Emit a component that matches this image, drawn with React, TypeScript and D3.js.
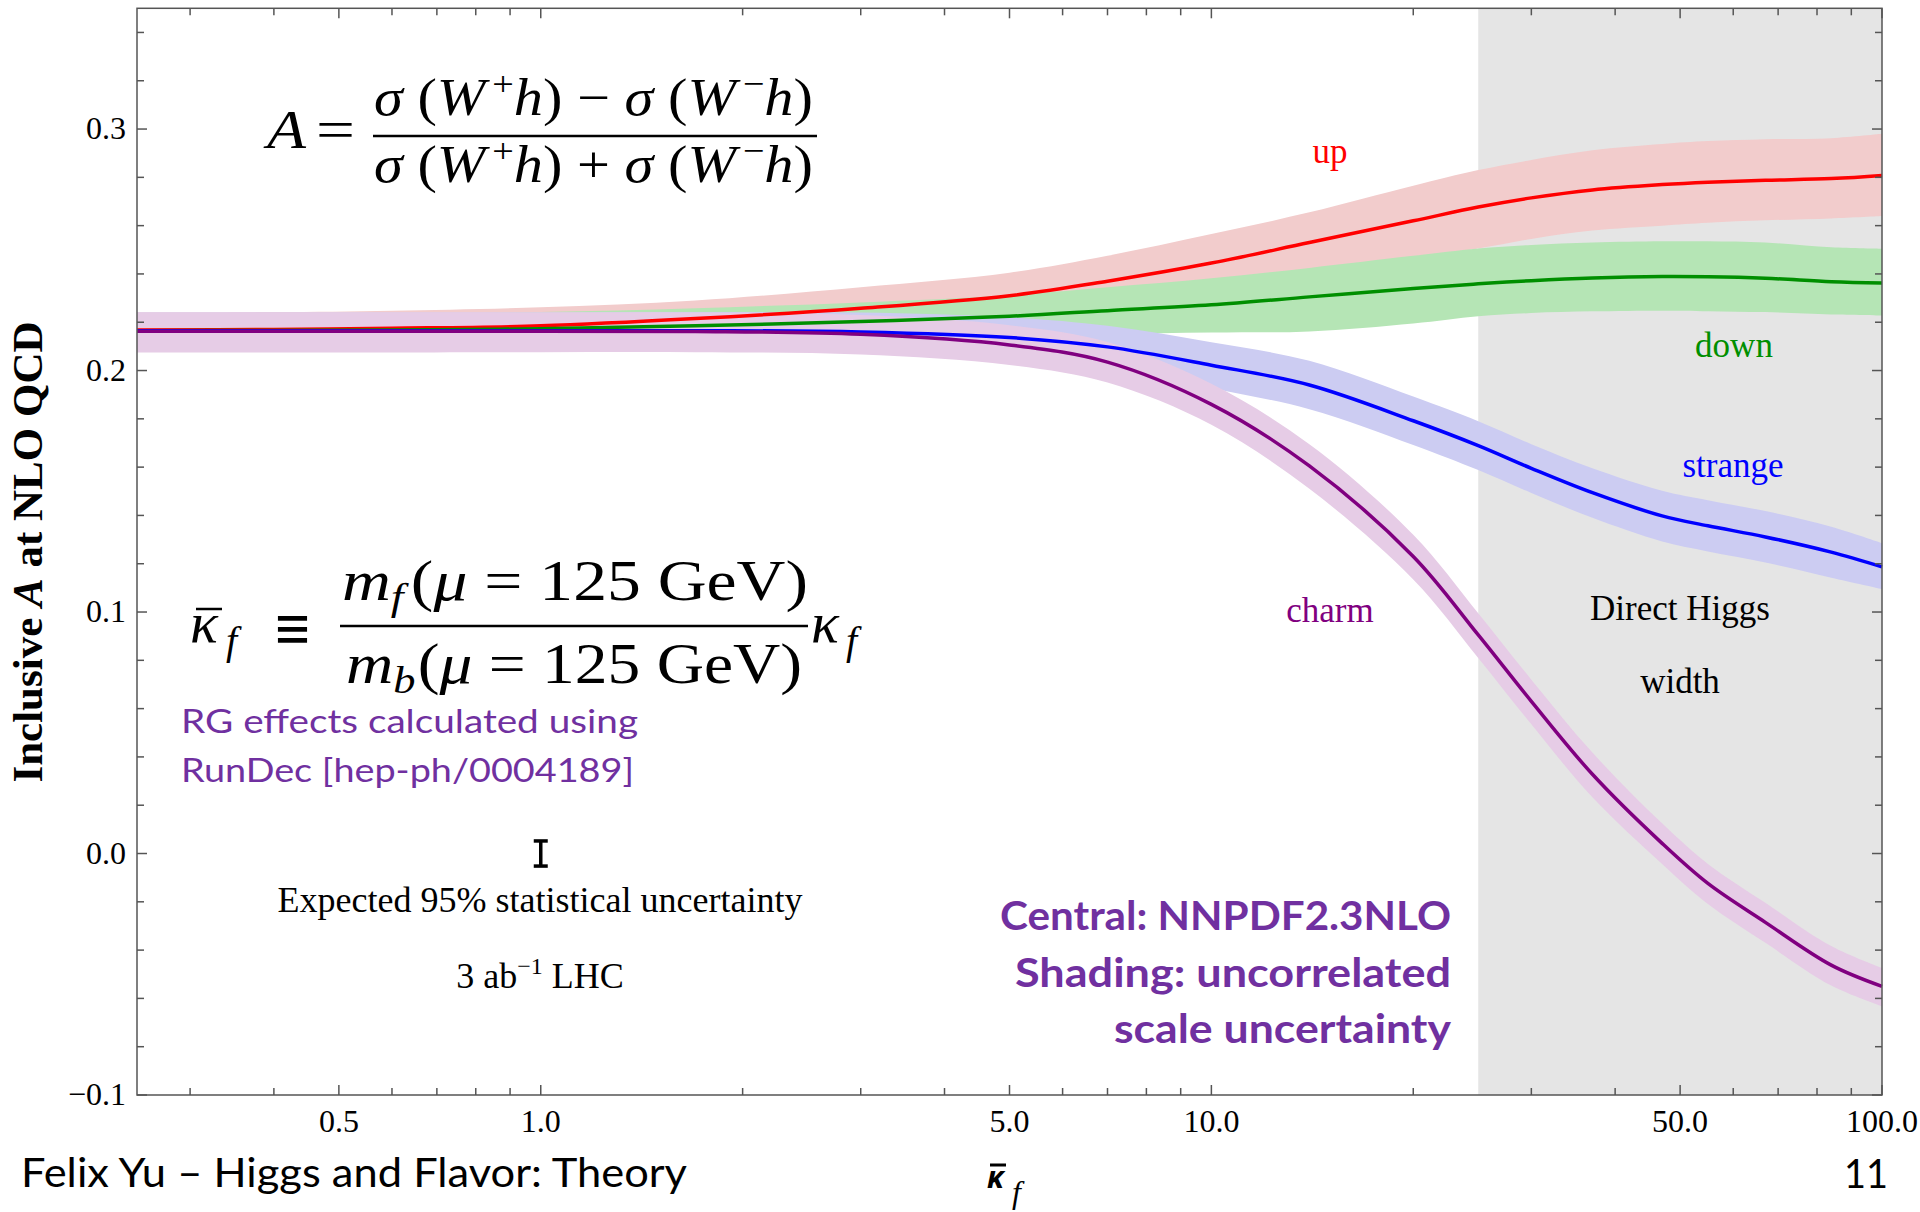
import React from 'react';
import * as d3 from 'd3';

// ---------- data ----------
const kappaGrid = [0.25, 0.4, 0.6, 1, 1.7, 3, 5, 7, 10, 14, 20, 25, 30, 37, 47, 55, 67, 84, 100];

const upCentral = [0.2168, 0.2170, 0.2175, 0.2185, 0.2215, 0.2258, 0.2310, 0.2370, 0.2445, 0.2530, 0.2620, 0.2677, 0.2715, 0.2748, 0.2770, 0.2780, 0.2788, 0.2795, 0.2808];
const upHigh = [0.2240, 0.2242, 0.2248, 0.2262, 0.2290, 0.2345, 0.2405, 0.2475, 0.2565, 0.2655, 0.2765, 0.2830, 0.2872, 0.2912, 0.2938, 0.2950, 0.2958, 0.2962, 0.2980];
const upLow = [0.2100, 0.2100, 0.2103, 0.2110, 0.2140, 0.2175, 0.2215, 0.2260, 0.2320, 0.2390, 0.2465, 0.2505, 0.2545, 0.2580, 0.2600, 0.2612, 0.2622, 0.2630, 0.2640];

const downCentral = [0.2165, 0.2166, 0.2168, 0.2173, 0.2185, 0.2203, 0.2225, 0.2248, 0.2272, 0.2305, 0.2340, 0.2359, 0.2372, 0.2383, 0.2389, 0.2388, 0.2382, 0.2368, 0.2362];
const downHigh = [0.2230, 0.2232, 0.2235, 0.2242, 0.2258, 0.2282, 0.2312, 0.2345, 0.2382, 0.2425, 0.2475, 0.2505, 0.2520, 0.2530, 0.2535, 0.2535, 0.2530, 0.2510, 0.2504];
const downLow = [0.2100, 0.2100, 0.2102, 0.2105, 0.2112, 0.2125, 0.2140, 0.2150, 0.2157, 0.2162, 0.2195, 0.2225, 0.2238, 0.2245, 0.2248, 0.2246, 0.2242, 0.2232, 0.2228];

const strangeCentral = [0.2165, 0.2165, 0.2165, 0.2165, 0.2165, 0.2160, 0.2137, 0.2098, 0.2022, 0.1940, 0.1792, 0.1689, 0.1595, 0.1494, 0.1398, 0.1357, 0.1311, 0.1248, 0.1187];
const strangeHigh = [0.2240, 0.2240, 0.2240, 0.2240, 0.2242, 0.2240, 0.2220, 0.2185, 0.2117, 0.2040, 0.1892, 0.1790, 0.1695, 0.1595, 0.1502, 0.1463, 0.1418, 0.1353, 0.1285];
const strangeLow = [0.2090, 0.2090, 0.2090, 0.2090, 0.2088, 0.2080, 0.2054, 0.2010, 0.1927, 0.1840, 0.1692, 0.1588, 0.1493, 0.1390, 0.1292, 0.1251, 0.1205, 0.1142, 0.1095];

const charmCentral = [0.2163, 0.2163, 0.2163, 0.2163, 0.2162, 0.2150, 0.2106, 0.2035, 0.1860, 0.1605, 0.1230, 0.0905, 0.0630, 0.0328, 0.0042, -0.0124, -0.0285, -0.0462, -0.0550];
const charmHigh = [0.2241, 0.2241, 0.2241, 0.2241, 0.2240, 0.2230, 0.2188, 0.2118, 0.1945, 0.1695, 0.1320, 0.0995, 0.0720, 0.0418, 0.0125, -0.0043, -0.0204, -0.0383, -0.0474];
const charmLow = [0.2075, 0.2075, 0.2075, 0.2076, 0.2076, 0.2066, 0.2023, 0.1950, 0.1775, 0.1510, 0.1135, 0.0810, 0.0535, 0.0233, -0.0043, -0.0209, -0.0370, -0.0547, -0.0633];

const directWidthRange = [25, 100];
const errorBarPoint = { kappa: 1, value: 0, err: 0.0052 };

const xMajorTicks = [0.5, 1, 5, 10, 50, 100];
const xMajorLabels = ['0.5', '1.0', '5.0', '10.0', '50.0', '100.0'];
const xMinorTicks = [0.3, 0.4, 0.6, 0.7, 0.8, 0.9, 2, 3, 4, 6, 7, 8, 9, 20, 30, 40, 60, 70, 80, 90];
const yMajorTicks = [-0.1, 0, 0.1, 0.2, 0.3];
const yMajorLabels = ['\u22120.1', '0.0', '0.1', '0.2', '0.3'];
const yMinorTicks = [-0.08, -0.06, -0.04, -0.02, 0.02, 0.04, 0.06, 0.08, 0.12, 0.14, 0.16, 0.18, 0.22, 0.24, 0.26, 0.28, 0.32, 0.34];

const seriesList = [
  { name: 'up', central: upCentral, low: upLow, high: upHigh, line: '#ff0000', band: '#f2cccc' },
  { name: 'down', central: downCentral, low: downLow, high: downHigh, line: '#008f00', band: '#b5e5b5' },
  { name: 'strange', central: strangeCentral, low: strangeLow, high: strangeHigh, line: '#0000ff', band: '#ccccf2' },
  { name: 'charm', central: charmCentral, low: charmLow, high: charmHigh, line: '#800080', band: '#e6cce6' },
];

// ---------- layout ----------
const W = 1920, H = 1212;
const L = 137, R = 1882, T = 8.3, B = 1095;

const serif = '"Liberation Serif", "Times New Roman", serif';
const sans = 'Lato, "Open Sans", sans-serif';
const purple = '#7030a0';

export default function App() {
  const x = d3.scaleLog().domain([0.25, 100]).range([L, R]);
  const y = d3.scaleLinear().domain([-0.1, 0.35]).range([B, T]);

  const curve = d3.curveCatmullRom.alpha(0.5);
  const area = d3.area<number>()
    .x((_, i) => x(kappaGrid[i]))
    .curve(curve);
  const line = d3.line<number>()
    .x((_, i) => x(kappaGrid[i]))
    .y((d) => y(d))
    .curve(curve);

  const axisColor = '#555';
  const majLen = 10, minLen = 7;

  return (
    <svg width={W} height={H} style={{ position: 'absolute', left: 0, top: 0, background: '#fff' }}>
      {/* direct Higgs width shading */}
      <rect x={x(directWidthRange[0])} y={T} width={x(directWidthRange[1]) - x(directWidthRange[0])} height={B - T} fill="#e5e5e5" />

      {/* bands */}
      {seriesList.map((s) => (
        <path key={s.name + 'b'} d={area.y0((_, i) => y(s.low[i])).y1((_, i) => y(s.high[i]))(s.central) || ''} fill={s.band} />
      ))}
      {/* lines */}
      {seriesList.map((s) => (
        <path key={s.name + 'l'} d={line(s.central) || ''} fill="none" stroke={s.line} strokeWidth={3.5} />
      ))}

      {/* frame */}
      <rect x={L} y={T} width={R - L} height={B - T} fill="none" stroke={axisColor} strokeWidth={1.5} />

      {/* x ticks */}
      {xMajorTicks.map((t, i) => (
        <g key={'xm' + i}>
          <line x1={x(t)} x2={x(t)} y1={B} y2={B - majLen} stroke={axisColor} strokeWidth={1.5} />
          <line x1={x(t)} x2={x(t)} y1={T} y2={T + majLen} stroke={axisColor} strokeWidth={1.5} />
          <text x={x(t)} y={1132} textAnchor="middle" fontFamily={serif} fontSize={32}>{xMajorLabels[i]}</text>
        </g>
      ))}
      {xMinorTicks.map((t, i) => (
        <g key={'xn' + i}>
          <line x1={x(t)} x2={x(t)} y1={B} y2={B - minLen} stroke={axisColor} strokeWidth={1.5} />
          <line x1={x(t)} x2={x(t)} y1={T} y2={T + minLen} stroke={axisColor} strokeWidth={1.5} />
        </g>
      ))}
      {/* y ticks */}
      {yMajorTicks.map((t, i) => (
        <g key={'ym' + i}>
          <line x1={L} x2={L + majLen} y1={y(t)} y2={y(t)} stroke={axisColor} strokeWidth={1.5} />
          <line x1={R} x2={R - majLen} y1={y(t)} y2={y(t)} stroke={axisColor} strokeWidth={1.5} />
          <text x={126} y={y(t) + 10} textAnchor="end" fontFamily={serif} fontSize={32}>{yMajorLabels[i]}</text>
        </g>
      ))}
      {yMinorTicks.map((t, i) => (
        <g key={'yn' + i}>
          <line x1={L} x2={L + minLen} y1={y(t)} y2={y(t)} stroke={axisColor} strokeWidth={1.5} />
          <line x1={R} x2={R - minLen} y1={y(t)} y2={y(t)} stroke={axisColor} strokeWidth={1.5} />
        </g>
      ))}

      {/* axis labels */}
      <text transform="translate(42,552) rotate(-90)" textAnchor="middle" fontFamily={serif} fontWeight="bold" fontSize={43}>
        Inclusive <tspan fontStyle="italic">A</tspan> at NLO QCD
      </text>
      <text x={987} y={1188} fontFamily='"Noto Sans", sans-serif' fontWeight="bold" fontStyle="italic" fontSize={30}>κ</text>
      <line x1={990} x2={1006} y1={1165} y2={1165} stroke="#000" strokeWidth={3} />
      <text x={1012} y={1203} fontFamily={serif} fontStyle="italic" fontSize={32}>f</text>

      {/* series labels */}
      <text x={1330} y={163} textAnchor="middle" fontFamily={serif} fontSize={35} fill="#ff0000">up</text>
      <text x={1734} y={357} textAnchor="middle" fontFamily={serif} fontSize={35} fill="#008f00">down</text>
      <text x={1733} y={477} textAnchor="middle" fontFamily={serif} fontSize={35} fill="#0000ff">strange</text>
      <text x={1330} y={622} textAnchor="middle" fontFamily={serif} fontSize={35} fill="#800080">charm</text>
      <text x={1680} y={620} textAnchor="middle" fontFamily={serif} fontSize={35}>Direct Higgs</text>
      <text x={1680} y={693} textAnchor="middle" fontFamily={serif} fontSize={35}>width</text>

      {/* error bar */}
      {(() => {
        const cx = x(errorBarPoint.kappa);
        const y1 = y(errorBarPoint.value + errorBarPoint.err);
        const y2 = y(errorBarPoint.value - errorBarPoint.err);
        return (
          <g stroke="#000" strokeWidth={3.5}>
            <line x1={cx} x2={cx} y1={y1} y2={y2} />
            <line x1={cx - 7} x2={cx + 7} y1={y1} y2={y1} />
            <line x1={cx - 7} x2={cx + 7} y1={y2} y2={y2} />
          </g>
        );
      })()}
      <text x={540} y={912} textAnchor="middle" fontFamily={serif} fontSize={36}>Expected 95% statistical uncertainty</text>
      <text x={540} y={988} textAnchor="middle" fontFamily={serif} fontSize={36}>
        3 ab<tspan dy={-14} fontSize={24}>{'\u22121'}</tspan><tspan dy={14}> LHC</tspan>
      </text>

      {/* formula A */}
      <text x={267} y={148} fontFamily={serif} fontStyle="italic" fontSize={54} textLength={39} lengthAdjust="spacingAndGlyphs">A</text>
      <text x={316} y={148} fontFamily={serif} fontSize={54} textLength={39} lengthAdjust="spacingAndGlyphs">=</text>
      <line x1={373} x2={817} y1={136} y2={136} stroke="#000" strokeWidth={2.5} />
      <text x={374} y={115} fontFamily={serif} fontSize={52} textLength={439} lengthAdjust="spacingAndGlyphs">
        <tspan fontStyle="italic">σ</tspan> (<tspan fontStyle="italic">W</tspan><tspan dx={6} dy={-20} fontSize={34}>+</tspan><tspan dy={20} fontStyle="italic">h</tspan>) − <tspan fontStyle="italic">σ</tspan> (<tspan fontStyle="italic">W</tspan><tspan dx={6} dy={-20} fontSize={34}>−</tspan><tspan dy={20} fontStyle="italic">h</tspan>)
      </text>
      <text x={374} y={182} fontFamily={serif} fontSize={52} textLength={439} lengthAdjust="spacingAndGlyphs">
        <tspan fontStyle="italic">σ</tspan> (<tspan fontStyle="italic">W</tspan><tspan dx={6} dy={-20} fontSize={34}>+</tspan><tspan dy={20} fontStyle="italic">h</tspan>) + <tspan fontStyle="italic">σ</tspan> (<tspan fontStyle="italic">W</tspan><tspan dx={6} dy={-20} fontSize={34}>−</tspan><tspan dy={20} fontStyle="italic">h</tspan>)
      </text>

      {/* formula kappa-bar */}
      <text x={190} y={642} fontFamily={serif} fontStyle="italic" fontSize={58}>κ</text>
      <line x1={196} x2={222} y1={609} y2={609} stroke="#000" strokeWidth={2.5} />
      <text x={226} y={654} fontFamily={serif} fontStyle="italic" fontSize={40}>f</text>
      <text x={273} y={648} fontFamily='"DejaVu Serif", serif' fontSize={60} textLength={39} lengthAdjust="spacingAndGlyphs">≡</text>
      <line x1={340} x2={808} y1={626} y2={626} stroke="#000" strokeWidth={2.5} />
      <text x={342} y={600} fontFamily={serif} fontSize={56} textLength={466} lengthAdjust="spacingAndGlyphs">
        <tspan fontStyle="italic">m</tspan><tspan dy={10} fontSize={38} fontStyle="italic">f</tspan><tspan dx={6} dy={-10}>(</tspan><tspan fontStyle="italic">μ</tspan> = 125 GeV)
      </text>
      <text x={346} y={683} fontFamily={serif} fontSize={56} textLength={456} lengthAdjust="spacingAndGlyphs">
        <tspan fontStyle="italic">m</tspan><tspan dy={10} fontSize={38} fontStyle="italic">b</tspan><tspan dx={2} dy={-10}>(</tspan><tspan fontStyle="italic">μ</tspan> = 125 GeV)
      </text>
      <text x={811} y={642} fontFamily={serif} fontStyle="italic" fontSize={58}>κ</text>
      <text x={846} y={654} fontFamily={serif} fontStyle="italic" fontSize={40}>f</text>

      {/* purple annotations */}
      <text x={181} y={733} fontFamily={sans} fontSize={33} fill={purple} textLength={457} lengthAdjust="spacingAndGlyphs">RG effects calculated using</text>
      <text x={181} y={782} fontFamily={sans} fontSize={33} fill={purple} textLength={453} lengthAdjust="spacingAndGlyphs">RunDec [hep-ph/0004189]</text>
      <text x={1000} y={930} fontFamily={sans} fontWeight="bold" fontSize={40} fill={purple} textLength={451} lengthAdjust="spacingAndGlyphs">Central: NNPDF2.3NLO</text>
      <text x={1015} y={987} fontFamily={sans} fontWeight="bold" fontSize={40} fill={purple} textLength={436} lengthAdjust="spacingAndGlyphs">Shading: uncorrelated</text>
      <text x={1114} y={1043} fontFamily={sans} fontWeight="bold" fontSize={40} fill={purple} textLength={337} lengthAdjust="spacingAndGlyphs">scale uncertainty</text>

      {/* footer */}
      <text x={21} y={1187} fontFamily={sans} fontSize={40} fill="#000" textLength={666} lengthAdjust="spacingAndGlyphs">Felix Yu – Higgs and Flavor: Theory</text>
      <text x={1844} y={1188} fontFamily={sans} fontSize={40} fill="#000" textLength={44} lengthAdjust="spacingAndGlyphs">11</text>
    </svg>
  );
}
